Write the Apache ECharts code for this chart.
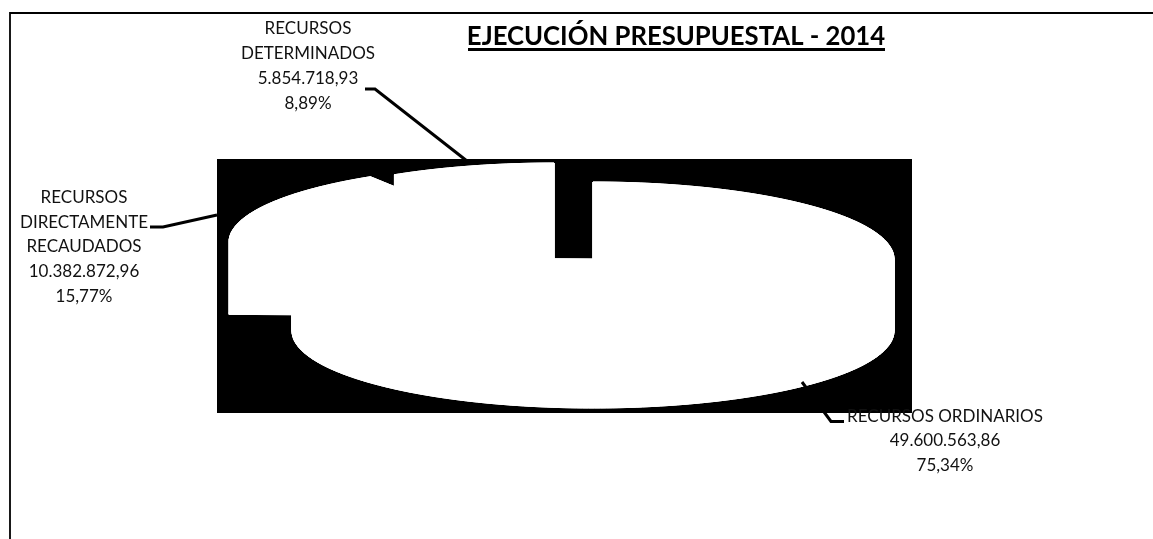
<!DOCTYPE html>
<html>
<head>
<meta charset="utf-8">
<title>Ejecución presupuestal 2014</title>
<style>
  html, body { margin: 0; padding: 0; background: #fff; }
  #chart { width: 1153px; height: 539px; }
</style>
<script src="https://cdn.jsdelivr.net/npm/echarts@6/dist/echarts.min.js"></script>
</head>
<body>
<div id="chart"></div>
<script>
const chartTitle = 'EJECUCIÓN PRESUPUESTAL - 2014'
const categories = [
  'RECURSOS ORDINARIOS',
  'RECURSOS\nDIRECTAMENTE\nRECAUDADOS',
  'RECURSOS\nDETERMINADOS'
]
const amounts = [49600563.86, 10382872.96, 5854718.93]
const percents = ['75,34%', '15,77%', '8,89%']

// exploded 3D pie, one entry per slice, same order as the data
const RX = 301
const RY = 77
const sliceLayout = [
  { cx: 593, cy: 259, depth: 72, labelX: 945, labelY: 441, leader: [[844, 421.5], [831, 421.5], [802, 382]] },
  { cx: 530, cy: 242, depth: 74, labelX: 84, labelY: 247, leader: [[150, 227], [163, 227], [217, 215]] },
  { cx: 554, cy: 240, depth: 76, labelX: 308, labelY: 66, leader: [[365, 89], [375, 89], [467, 161]] }
]

const formatAmount = (v) => {
  const parts = v.toFixed(2).split('.')
  return parts[0].replace(/\B(?=(\d{3})+$)/g, '.') + ',' + parts[1]
}

const total = amounts.reduce((a, b) => a + b, 0)

const arcPoints = (s, from, to, dy) => {
  const pts = []
  const n = Math.max(2, Math.ceil((to - from) / 0.02))
  for (let i = 0; i <= n; i++) {
    const a = from + (to - from) * i / n
    pts.push([s.cx + RX * Math.sin(a), s.cy + dy - RY * Math.cos(a)])
  }
  return pts
}

const renderSlice = (params, api) => {
  const i = params.dataIndex
  const s = sliceLayout[i]
  let before = 0
  for (let k = 0; k < i; k++) before += amounts[k]
  const from = before / total * Math.PI * 2
  const to = (before + api.value(0)) / total * Math.PI * 2

  const top = arcPoints(s, from, to, 0)
  const bottom = arcPoints(s, from, to, s.depth)
  const white = { fill: '#fff', stroke: '#fff', lineWidth: 1 }
  const poly = (points) => ({ type: 'polygon', shape: { points }, style: white })
  const center = [s.cx, s.cy]
  const centerLow = [s.cx, s.cy + s.depth]

  // outer wall as small quads, one big polygon cancels itself out on the right side
  const walls = []
  for (let k = 0; k < top.length - 1; k++) {
    walls.push(poly([top[k], top[k + 1], bottom[k + 1], bottom[k]]))
  }

  return {
    type: 'group',
    children: [
      poly([centerLow].concat(bottom)),
      ...walls,
      poly([center, top[0], bottom[0], centerLow]),
      poly([center, top[top.length - 1], bottom[bottom.length - 1], centerLow]),
      poly([center].concat(top)),
      {
        type: 'polyline',
        shape: { points: s.leader },
        style: { stroke: '#000', lineWidth: 3, fill: null }
      },
      {
        type: 'text',
        x: s.labelX,
        y: s.labelY,
        style: {
          text: categories[i] + '\n' + formatAmount(api.value(0)) + '\n' + percents[i],
          fill: '#111',
          font: '17px Lato',
          lineHeight: 24.7,
          align: 'center',
          verticalAlign: 'middle'
        }
      }
    ]
  }
}

const chart = echarts.init(document.getElementById('chart'))

chart.setOption({
  animation: false,
  backgroundColor: '#fff',
  title: {
    text: chartTitle,
    left: 676,
    top: 24,
    padding: 0,
    textAlign: 'center',
    textStyle: { fontFamily: 'Lato', fontWeight: 'bold', fontSize: 25.7, color: '#000' }
  },
  grid: {
    show: true,
    left: 217,
    top: 159,
    width: 695,
    height: 254,
    backgroundColor: '#000',
    borderWidth: 0
  },
  xAxis: { type: 'value', show: false },
  yAxis: { type: 'value', show: false },
  series: [
    {
      type: 'custom',
      coordinateSystem: 'none',
      silent: true,
      data: amounts.map(v => [v]),
      renderItem: renderSlice
    }
  ],
  graphic: [
    // chart frame, only top and left show in the crop
    { type: 'polyline', shape: { points: [[10, 539], [10, 13], [1153, 13]] }, style: { stroke: '#000', lineWidth: 1.8, fill: null } },
    // title underline
    { type: 'line', shape: { x1: 468, y1: 49.5, x2: 885, y2: 49.5 }, style: { stroke: '#000', lineWidth: 3 } }
  ]
})
</script>
</body>
</html>
